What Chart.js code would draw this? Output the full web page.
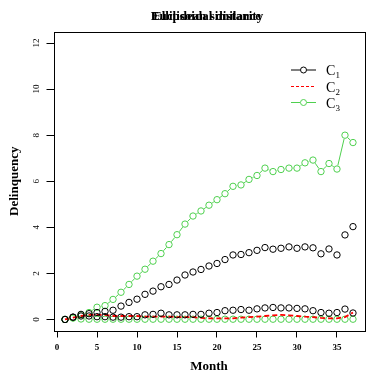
<!DOCTYPE html>
<html>
<head>
<meta charset="utf-8">
<script src="https://cdn.jsdelivr.net/npm/chart.js@4/dist/chart.umd.min.js"></script>
<style>
  html, body { margin: 0; padding: 0; background: #fff; }
  #wrap { width: 374px; height: 374px; }
</style>
</head>
<body>
<div id="wrap"><canvas id="chart"></canvas></div>
<script>
const months = [1,2,3,4,5,6,7,8,9,10,11,12,13,14,15,16,17,18,19,20,21,22,23,24,25,26,27,28,29,30,31,32,33,34,35,36,37]

const c1High = [0,0.1,0.22,0.25,0.3,0.35,0.4,0.58,0.74,0.88,1.09,1.23,1.42,1.52,1.71,1.93,2.06,2.17,2.32,2.43,2.6,2.8,2.82,2.9,3.0,3.12,3.05,3.09,3.15,3.09,3.15,3.11,2.85,3.06,2.8,3.67,4.03]
const c1Low = [0,0.1,0.15,0.15,0.12,0.12,0.1,0.1,0.12,0.12,0.2,0.22,0.27,0.2,0.2,0.2,0.22,0.22,0.27,0.3,0.38,0.4,0.43,0.4,0.46,0.5,0.52,0.5,0.5,0.48,0.46,0.38,0.3,0.27,0.3,0.45,0.28]
const c2 = [0,0.08,0.15,0.2,0.2,0.2,0.15,0.15,0.15,0.15,0.12,0.12,0.12,0.12,0.1,0.1,0.1,0.07,0.05,0.05,0.05,0.05,0.08,0.1,0.12,0.15,0.18,0.2,0.18,0.15,0.12,0.1,0.07,0.05,0.05,0.1,0.3]
const c3High = [0,0.07,0.2,0.3,0.53,0.6,0.87,1.18,1.52,1.88,2.18,2.53,2.86,3.25,3.68,4.14,4.49,4.71,4.96,5.2,5.46,5.78,5.84,6.08,6.25,6.57,6.42,6.51,6.57,6.57,6.8,6.92,6.42,6.77,6.53,8.0,7.68]
const c3Low = [0,0.06,0.02,0.01,0.01,0.01,0.01,0.01,0.01,0.01,0.01,0.01,0.01,0.01,0.01,0.01,0.01,0.01,0.01,0.01,0.01,0.01,0.01,0.01,0.01,0.01,0.01,0.01,0.01,0.01,0.01,0.01,0.01,0.01,0.01,0.01,0.01]

const titles = ['Ellipsoidal distance', 'Euclidean similarity']
const legendNames = ['1', '2', '3']

const black = '#000000'
const red = '#ff0000'
const green = '#4fd04f'
const serif = "'Liberation Serif', 'DejaVu Serif', serif"

const pts = (ys) => months.map((m, i) => ({ x: m, y: ys[i] }))

// gap = 0 means points only (R type="p")
function pointSet(label, ys, color, gap) {
  return {
    label: label,
    data: pts(ys),
    borderColor: color,
    backgroundColor: 'rgba(0,0,0,0)',
    pointRadius: 3.2,
    pointBorderWidth: 1,
    pointHoverRadius: 3.2,
    showLine: false,
    rGap: gap,
  }
}

// R type="b": segments between points, cut back around each circle
const gapLines = {
  id: 'gapLines',
  afterDatasetsDraw(chart) {
    const ctx = chart.ctx
    const area = chart.chartArea
    ctx.save()
    ctx.beginPath()
    ctx.rect(area.left, area.top, area.right - area.left, area.bottom - area.top)
    ctx.clip()
    chart.data.datasets.forEach((ds, di) => {
      if (!ds.rGap) return
      const meta = chart.getDatasetMeta(di)
      ctx.strokeStyle = ds.borderColor
      ctx.lineWidth = 1
      for (let i = 1; i < meta.data.length; i++) {
        const a = meta.data[i - 1], b = meta.data[i]
        const dx = b.x - a.x, dy = b.y - a.y
        const d = Math.sqrt(dx * dx + dy * dy)
        if (d <= 2 * ds.rGap) continue
        const ux = dx / d, uy = dy / d
        ctx.beginPath()
        ctx.moveTo(a.x + ux * ds.rGap, a.y + uy * ds.rGap)
        ctx.lineTo(b.x - ux * ds.rGap, b.y - uy * ds.rGap)
        ctx.stroke()
      }
    })
    ctx.restore()
  }
}

const frame = {
  id: 'frame',
  afterDraw(chart) {
    const ctx = chart.ctx
    const a = chart.chartArea
    ctx.save()
    ctx.strokeStyle = black
    ctx.lineWidth = 1
    ctx.strokeRect(Math.round(a.left) + 0.5, Math.round(a.top) + 0.5,
      Math.round(a.right - a.left), Math.round(a.bottom - a.top))

    // overlapping main titles
    ctx.fillStyle = black
    ctx.font = 'bold 13px ' + serif
    ctx.textAlign = 'center'
    ctx.textBaseline = 'middle'
    titles.forEach(t => ctx.fillText(t, 207, 16.5))

    // legend
    const rows = [
      { y: 70, color: black, dash: [], point: true },
      { y: 86.5, color: red, dash: [3, 2], point: false },
      { y: 102.5, color: green, dash: [], point: true },
    ]
    rows.forEach((r, i) => {
      ctx.strokeStyle = r.color
      ctx.lineWidth = 1
      ctx.setLineDash(r.dash)
      ctx.beginPath()
      if (r.point) {
        ctx.moveTo(291, r.y); ctx.lineTo(300, r.y)
        ctx.moveTo(307, r.y); ctx.lineTo(316, r.y)
      } else {
        ctx.moveTo(291, r.y); ctx.lineTo(316, r.y)
      }
      ctx.stroke()
      ctx.setLineDash([])
      if (r.point) {
        ctx.beginPath()
        ctx.arc(303.5, r.y, 3, 0, Math.PI * 2)
        ctx.stroke()
      }
      ctx.fillStyle = black
      ctx.textAlign = 'left'
      ctx.textBaseline = 'alphabetic'
      ctx.font = '14px ' + serif
      ctx.fillText('C', 326, r.y + 5)
      ctx.font = '9px ' + serif
      ctx.fillText(legendNames[i], 335.5, r.y + 8)
    })
    ctx.restore()
  }
}

const config = {
  type: 'scatter',
  data: {
    datasets: [
      pointSet('C1', c1High, black, 0),
      pointSet('C1', c1Low, black, 0),
      {
        label: 'C2',
        data: pts(c2),
        borderColor: red,
        borderWidth: 1.8,
        borderDash: [5, 3],
        pointRadius: 0,
        showLine: true,
        tension: 0,
      },
      pointSet('C3', c3High, green, 3.8),
      pointSet('C3', c3Low, green, 3.8),
    ]
  },
  options: {
    animation: false,
    responsive: true,
    maintainAspectRatio: false,
    layout: { padding: { top: 32, right: 9.5, bottom: 0, left: 0 } },
    scales: {
      x: {
        type: 'linear',
        min: -0.44,
        max: 38.44,
        afterFit: (s) => { s.height = 43.5 },
        border: { display: false },
        grid: { drawOnChartArea: false, drawTicks: true, tickLength: 7, color: black },
        ticks: {
          stepSize: 5,
          includeBounds: false,
          padding: 5,
          color: black,
          maxRotation: 0,
          font: { family: serif, size: 9, weight: 'bold' },
        },
        title: {
          display: true,
          text: 'Month',
          color: black,
          padding: 0,
          font: { family: serif, size: 13, weight: 'bold' },
        },
      },
      y: {
        type: 'linear',
        min: -0.48,
        max: 12.48,
        afterFit: (s) => { s.width = 53.5 },
        border: { display: false },
        grid: { drawOnChartArea: false, drawTicks: true, tickLength: 7, color: black },
        ticks: {
          stepSize: 2,
          includeBounds: false,
          padding: 5,
          color: black,
          minRotation: 90,
          maxRotation: 90,
          crossAlign: 'center',
          font: { family: serif, size: 9 },
        },
        title: {
          display: true,
          text: 'Delinquency',
          color: black,
          padding: { top: 7, bottom: 0 },
          font: { family: serif, size: 13, weight: 'bold' },
        },
      },
    },
    plugins: {
      legend: { display: false },
      tooltip: { enabled: false },
    },
  },
  plugins: [gapLines, frame],
}

new Chart(document.getElementById('chart'), config)
</script>
</body>
</html>
